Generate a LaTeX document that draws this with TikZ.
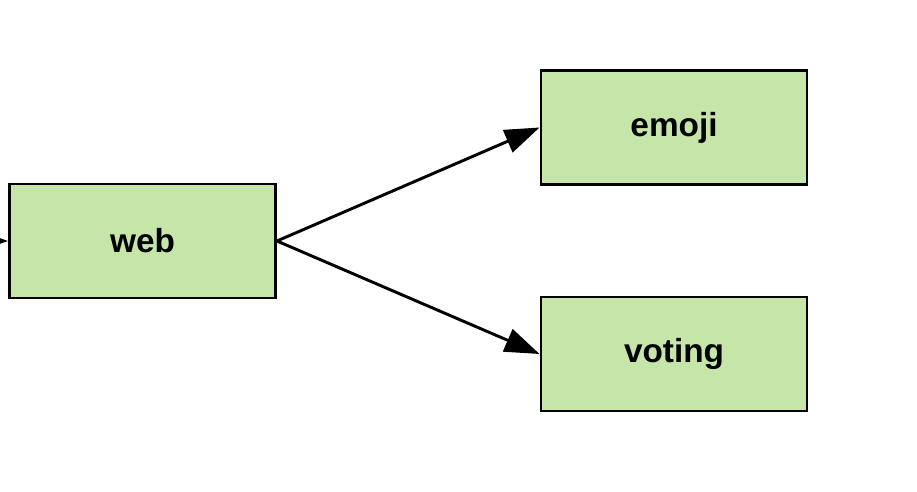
\documentclass[tikz,border=0pt]{standalone}
\usepackage{fontspec}
\setmainfont{Liberation Sans}
\usetikzlibrary{arrows.meta}
\definecolor{boxgreen}{HTML}{C5E6A8}
\tikzset{
  svc/.style={draw=black, fill=boxgreen, line width=2.2pt, minimum width=266*0.75pt, minimum height=114*0.75pt, inner sep=0pt, font=\fontsize{25}{30}\selectfont\bfseries},
  conn/.style={line width=2.2pt, -{Triangle[length=26pt,width=18pt]}}
}
\begin{document}
\begin{tikzpicture}[x=0.75pt,y=-0.75pt]
\useasboundingbox (0,0) rectangle (917,492);
\node[svc] (web) at (142.5,241) {web};
\node[svc] (emoji) at (674,127.5) {emoji};
\node[svc] (voting) at (674,354) {voting};
\coordinate (in) at (-80,241);
\draw[conn] (in) -- (web.west);
\draw[conn] (web.east) -- (emoji.west);
\draw[conn] (web.east) -- (voting.west);
\end{tikzpicture}
\end{document}
